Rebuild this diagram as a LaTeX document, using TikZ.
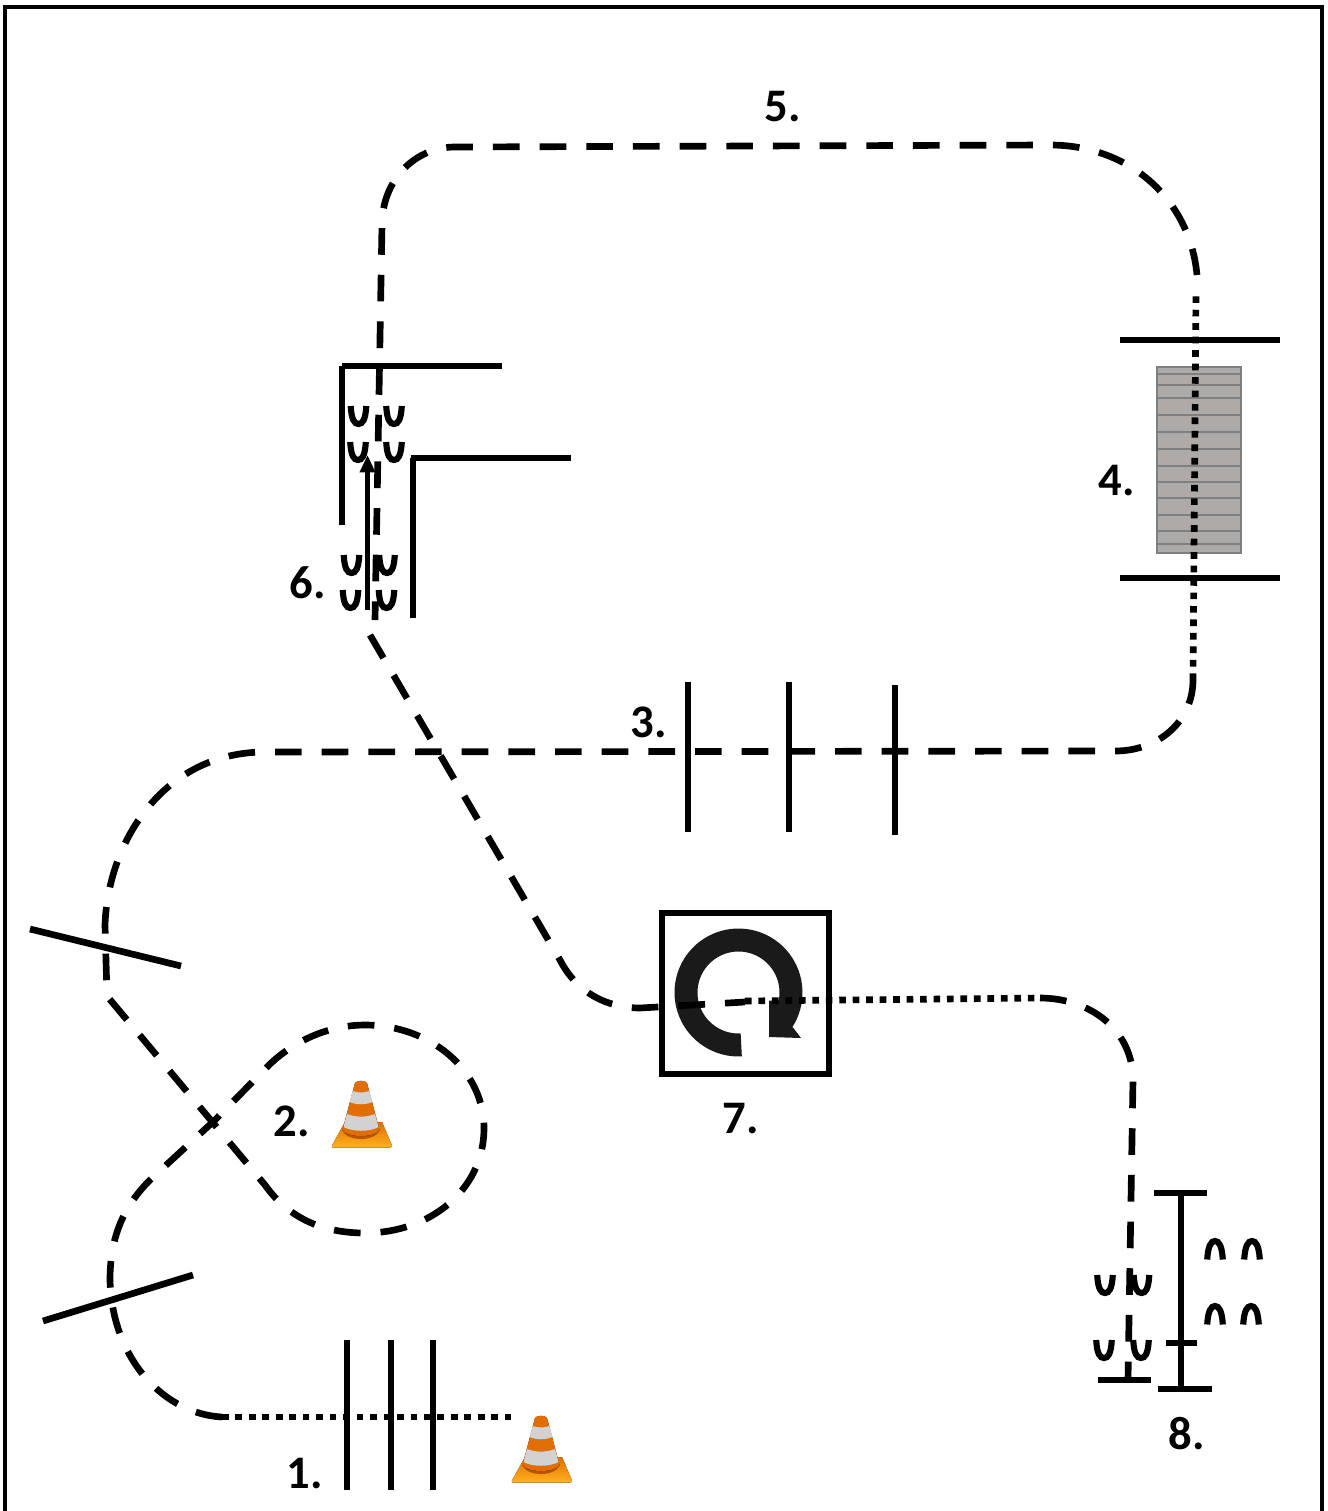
\documentclass[tikz,border=0pt]{standalone}
\usepackage{fontspec}
\setmainfont{Carlito}
\usetikzlibrary{arrows.meta}
\definecolor{ringdark}{HTML}{1A1A1A}
\definecolor{deckfill}{HTML}{AEAAA8}
\definecolor{deckline}{HTML}{7F7F7F}
\definecolor{conea}{HTML}{F58A10}
\definecolor{coneb}{HTML}{E06E04}
\definecolor{conec}{HTML}{FFB21E}
\definecolor{coned}{HTML}{D2D2D2}
\definecolor{conee}{HTML}{B85404}
\tikzset{
  x=0.75pt,y=-0.75pt,
  wall/.style={line width=5pt,line cap=butt,black},
  bar/.style={line width=5pt,black},
  dashtrack/.style={line width=5pt,black,dash pattern=on 20pt off 15pt},
  dottrack/.style={line width=5pt,black,dash pattern=on 5pt off 5.1pt},
  lab/.style={font=\bfseries\fontsize{35}{38}\selectfont,inner sep=0pt,text=black},
  pics/footcup/.style={code={
    \draw[line width=4.6pt,line cap=butt,black]
      (-7.8,-10) .. controls (-7,4) and (-4,8) .. (0,8)
      .. controls (4,8) and (7,4) .. (7.8,-10);
  }},
  pics/footcap/.style={code={
    \draw[line width=4.6pt,line cap=butt,black]
      (-7.8,10.5) .. controls (-7,-3) and (-4,-8) .. (0,-8)
      .. controls (4,-8) and (7,-3) .. (7.8,10.5);
  }},
  pics/trafficcone/.style={code={
    % base plate
    \fill[top color=coneb,bottom color=conec]
      (-16,42) -- (21,42) -- (31,65.5) .. controls (31,67) and (30,67.5) .. (29,67.5)
      -- (-28,67.5) .. controls (-29,67.5) and (-29.5,67) .. (-29,65.5) -- cycle;
    % shadow under the cone
    \fill[conee] (-19,50) .. controls (-14,62) and (14,62) .. (19,50) -- (10,45) -- (-10,45) -- cycle;
    % body
    \fill[left color=coneb,middle color=conea,right color=coneb]
      (-6,3) .. controls (-4,0) and (4,0) .. (6,3)
      -- (18.5,50) .. controls (14,58) and (-14,58) .. (-18.5,50) -- cycle;
    % stripes
    \fill[coned] (-8.2,11) .. controls (-3,13) and (3,13) .. (8.2,11)
      -- (11.6,22) .. controls (4,25) and (-4,25) .. (-11.6,22) -- cycle;
    \fill[coned] (-14,34) .. controls (-5,37.5) and (5,37.5) .. (14,34)
      -- (17.5,47) .. controls (8,52) and (-8,52) .. (-17.5,47) -- cycle;
  }}
}
\begin{document}
\begin{tikzpicture}
\useasboundingbox (0,0) rectangle (1328,1511);
\fill[white] (0,0) rectangle (1328,1511);
% outer frame
\draw[line width=3.2pt,black] (5,1511) -- (5,7) -- (1322,7) -- (1322,1511);

% deck
\draw[deckline,fill=deckfill,line width=1.8pt] (1157,367) rectangle (1241,553);
\foreach \yy in {374,385,398,415,432,449,466,482,498,515,531,544}
  \draw[deckline,line width=1pt] (1158,\yy) -- (1240,\yy);

% rotation sign
\draw[line width=4.8pt,black] (662,913) rectangle (829,1074);
\begin{scope}[shift={(738.5,992.5)}]
\fill[ringdark]
  plot[domain=87:393,samples=70] (\x:64)
  -- (54.5,35) -- (62.5,45.5) -- (30.5,44.5) -- (30.5,8)
  -- (39.5,8)
  -- plot[domain=371:87,samples=70] (\x:41) -- cycle;
\end{scope}

% cones
\pic at (541,1415) {trafficcone};
\pic at (361,1080) {trafficcone};

% track
\draw[dottrack] (222,1417) -- (512,1417);
\draw[dashtrack] (222,1417) .. controls (165,1414) and (112,1360) .. (110,1280)
  .. controls (110,1235) and (125,1205) .. (150,1180)
  -- (215,1120) -- (270,1064)
  .. controls (300,1036) and (335,1025) .. (365,1025)
  .. controls (430,1025) and (485,1070) .. (484,1130)
  .. controls (483,1190) and (430,1233) .. (365,1233)
  .. controls (325,1233) and (290,1220) .. (265,1185)
  -- (107,996) -- (105,925)
  .. controls (108,840) and (165,752) .. (265,752)
  -- (1115,751)
  .. controls (1160,751) and (1193,720) .. (1193,680);
\draw[dottrack] (1193,680) -- (1196,292);
\draw[dashtrack] (1197,275) .. controls (1190,200) and (1130,145) .. (1050,145)
  -- (455,147)
  .. controls (415,147) and (382,180) .. (382,225)
  -- (375,620);
\draw[dashtrack] (370,635) -- (560,960)
  .. controls (578,995) and (610,1008) .. (640,1008)
  -- (745,1002);
\draw[dottrack] (745,1001) -- (1040,998);
\draw[dashtrack] (1040,998) .. controls (1090,998) and (1133,1030) .. (1133,1080)
  -- (1128,1380);

% walls of the corridor
\draw[wall] (342,525) -- (342,366);
\draw[wall] (342,366) -- (502,366);
\draw[wall] (413,618) -- (413,458);
\draw[wall] (411,458) -- (571,458);
\draw[line width=3.8pt,black,-{Triangle[length=13pt,width=11pt]}] (367.5,610) -- (367.5,455);

% poles
\foreach \xa/\ya/\xb/\yb in {
  1120/340/1280/340, 1120/578/1280/578,
  688/682/688/832, 789/682/789/832, 895/685/895/835,
  30/929/181/966, 43/1321/193/1275,
  347/1340/347/1490, 391/1340/391/1490, 433/1340/433/1490,
  1154/1193/1207/1193, 1181/1193/1181/1389, 1166/1343/1197/1343,
  1158/1389/1212/1389, 1098/1380/1151/1380}
  \draw[bar] (\xa,\ya) -- (\xb,\yb);

% footprints
\foreach \xx/\yy in {358.5/416, 394/416, 358/452, 394/452,
  351.5/565, 387/565, 350.5/600, 386.5/600,
  1105/1285, 1141.5/1285, 1104/1350, 1141/1350}
  \pic at (\xx,\yy) {footcup};
\foreach \xx/\yy in {1215/1249, 1252/1249, 1215/1314, 1251/1314}
  \pic at (\xx,\yy) {footcap};

% labels
\node[lab] (l1) at (305,1473) {1.};
\node[lab] (l2) at (292,1121) {2.};
\node[lab] (l3) at (649,722) {3.};
\node[lab] (l4) at (1117,481) {4.};
\node[lab] (l5) at (783,107) {5.};
\node[lab] (l6) at (308,583) {6.};
\node[lab] (l7) at (741,1119) {7.};
\node[lab] (l8) at (1187,1434) {8.};
\end{tikzpicture}
\end{document}
